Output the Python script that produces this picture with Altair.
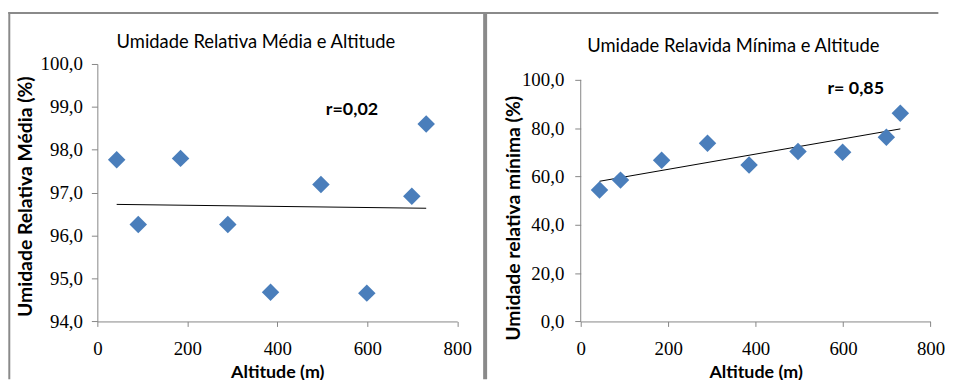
import altair as alt
import pandas as pd

# ---- data ----
altitude = [43, 91, 185, 290, 385, 497, 599, 699, 731]
umid_media = [97.77, 96.26, 97.80, 96.26, 94.68, 97.19, 94.66, 96.92, 98.60]
umid_minima = [54.4, 58.5, 66.7, 73.8, 64.8, 70.3, 70.0, 76.2, 86.2]

x_ticks = [0, 200, 400, 600, 800]
y_ticks_media = [94, 95, 96, 97, 98, 99, 100]
y_ticks_min = [0, 20, 40, 60, 80, 100]

title_media = "Umidade Relativa Média e Altitude"
title_min = "Umidade Relavida Mínima e Altitude"
ytitle_media = "Umidade Relativa Média (%)"
ytitle_min = "Umidade relativa mínima (%)"
xtitle = "Altitude (m)"
r_media = "r=0,02"
r_min = "r= 0,85"

df = pd.DataFrame({"alt": altitude, "med": umid_media, "mn": umid_minima})
one = pd.DataFrame({"k": [0]})

# ---- style ----
W1, W2, H = 362.6, 352.4, 259.4
GRAY = "#868686"
BORDER = "#8a8a8a"
BLUE = "#4A7EBB"
SANS = "Lato"
SERIF = "Liberation Serif"
comma_fmt = "replace(format(datum.value, '.1f'), '.', ',')"


def x_axis():
    return alt.Axis(values=x_ticks, title=xtitle, grid=False, domainColor=GRAY,
                    tickColor=GRAY, tickSize=5, labelFont=SERIF, labelFontSize=19,
                    labelPadding=13, labelColor="black", labelFlush=False,
                    labelOverlap=False, titleFont=SANS,
                    titleFontSize=18, titleFontWeight="bold", titleColor="black",
                    titleBaseline="alphabetic", titleY=56)


def y_axis(values, title, tx, ty, pad, domain=True):
    return alt.Axis(values=values, title=title, grid=False, domain=domain,
                    domainColor=GRAY, tickColor=GRAY, tickSize=6,
                    labelFont=SERIF, labelFontSize=19, labelPadding=pad,
                    labelColor="black", labelExpr=comma_fmt, labelFlush=False,
                    labelOverlap=False, titleFont=SANS,
                    titleFontSize=19.5, titleFontWeight="bold", titleColor="black",
                    titleX=tx, titleY=ty, titleAngle=270, titleAlign="center",
                    titleBaseline="middle")


def band(x1, x2, y1, y2):
    # plain filled strip used for the chart-area frame
    return alt.Chart(one).mark_rect(color=BORDER, clip=False).encode(
        x=alt.value(x1), x2=alt.value(x2), y=alt.value(y1), y2=alt.value(y2))


xs = alt.Scale(domain=[0, 800], nice=False, zero=False)

# ---- left panel ----
ys1 = alt.Scale(domain=[94, 100], nice=False, zero=False)
X1 = alt.X("alt:Q", scale=xs, axis=x_axis())
Y1 = alt.Y("med:Q", scale=ys1, axis=y_axis(y_ticks_media, ytitle_media, -72.7, 133.2, 9))

pts1 = alt.Chart(df).mark_point(shape="diamond", filled=True, size=310,
                                color=BLUE, opacity=1).encode(x=X1, y=Y1)
trend1 = alt.Chart(df).transform_regression("alt", "med").mark_line(
    color="black", strokeWidth=1).encode(x="alt:Q", y="med:Q")
ann1 = alt.Chart(one).mark_text(text=r_media, font=SANS, fontSize=18,
                                fontWeight="bold", color="black").encode(
    x=alt.datum(566), y=alt.datum(98.92))
top_line = band(-89.7, 847.3, -52.3, -50.3)
left_line = band(-89.7, -87.7, -52.3, 317.7)

left = alt.layer(top_line, left_line, trend1, pts1, ann1).properties(
    width=W1, height=H,
    title=alt.TitleParams(text=title_media, font=SANS, fontSize=18.5,
                          fontWeight="normal", color="black", anchor="middle",
                          dx=-21.5, offset=-39.4))

# ---- right panel ----
ys2 = alt.Scale(domain=[0, 106.57], nice=False, zero=False)
X2 = alt.X("alt:Q", scale=xs, axis=x_axis())
Y2 = alt.Y("mn:Q", scale=ys2, axis=y_axis(y_ticks_min, ytitle_min, -67.6, 155, 11, domain=False))

pts2 = alt.Chart(df).mark_point(shape="diamond", filled=True, size=310,
                                color=BLUE, opacity=1).encode(x=X2, y=Y2)
trend2 = alt.Chart(df).transform_regression("alt", "mn").mark_line(
    color="black", strokeWidth=1).encode(x="alt:Q", y="mn:Q")
yline2 = alt.Chart(one).mark_rule(color=GRAY, strokeWidth=1).encode(
    x=alt.value(0), y=alt.datum(0), y2=alt.datum(100))
ann2 = alt.Chart(one).mark_text(text=r_min, font=SANS, fontSize=18,
                                fontWeight="bold", color="black").encode(
    x=alt.datum(629), y=alt.datum(96.4))
divider = band(-98.3, -94.3, -52.3, 317.7)

right = alt.layer(divider, yline2, trend2, pts2, ann2).properties(
    width=W2, height=H,
    title=alt.TitleParams(text=title_min, font=SANS, fontSize=18.5,
                          fontWeight="normal", color="black", anchor="middle",
                          dx=-22.5, offset=-43.7))

chart = alt.hconcat(left, right, spacing=124, bounds="flush").properties(
    padding={"left": 0, "top": 2, "right": 0, "bottom": 0},
    background="white",
).configure_view(stroke=None)

chart.save("out.html", embed_options={"renderer": "svg", "actions": False})
